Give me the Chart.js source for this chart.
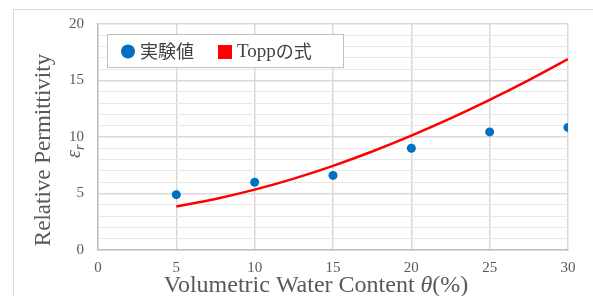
<!DOCTYPE html>
<html><head><meta charset="utf-8">
<script src="https://cdn.jsdelivr.net/npm/chart.js@4"></script>
<style>html,body{margin:0;padding:0;background:#fff}#wrap{width:593px;height:296px;position:relative}</style>
</head><body><div id="wrap"><canvas id="c" width="593" height="296"></canvas></div>
<script>
// Measured data (θ in %, εr)
const measuredTheta = [5, 10, 15, 20, 25, 30];
const measuredEps = [4.9, 6.0, 6.6, 9.0, 10.45, 10.85];
// Topp's equation curve
const toppTheta = [5, 7.5, 10, 12.5, 15, 17.5, 20, 22.5, 25, 27.5, 30];
const toppEps = [3.85, 4.52, 5.34, 6.32, 7.45, 8.72, 10.12, 11.64, 13.28, 15.03, 16.89];
const legendLabels = ['実験値', 'Toppの式'];
const xTitle = 'Volumetric Water Content ';
const yTitle = 'Relative Permittivity';

const gray = '#595959';
const serif = '"Liberation Serif", "Times New Roman", serif';

const decor = {
  id: 'decor',
  beforeDraw(chart) {
    const ctx = chart.ctx;
    ctx.save();
    ctx.strokeStyle = '#d9d9d9';
    ctx.lineWidth = 1;
    ctx.beginPath();
    ctx.moveTo(13.5, 296); ctx.lineTo(13.5, 9.5); ctx.lineTo(593, 9.5);
    ctx.stroke();
    ctx.restore();
  },
  afterDraw(chart) {
    const ctx = chart.ctx;
    ctx.save();
    // legend
    const lx = 107, ly = 34, lw = 236, lh = 33;
    ctx.fillStyle = '#fff';
    ctx.fillRect(lx, ly, lw, lh);
    ctx.strokeStyle = '#bfbfbf';
    ctx.lineWidth = 1;
    ctx.strokeRect(lx + 0.5, ly + 0.5, lw, lh);
    ctx.fillStyle = '#0070C0';
    ctx.beginPath(); ctx.arc(128, 51.5, 7, 0, Math.PI * 2); ctx.fill();
    ctx.fillStyle = '#404040';
    ctx.font = '18px "Noto Sans CJK JP"';
    ctx.textBaseline = 'middle';
    ctx.fillText(legendLabels[0], 140, 51);
    ctx.fillStyle = '#FF0000';
    ctx.fillRect(218, 45, 14, 14);
    ctx.fillStyle = '#404040';
    ctx.font = '19px ' + serif;
    const tw = ctx.measureText('Topp').width;
    ctx.fillText('Topp', 237, 52);
    ctx.font = '18px "Noto Sans CJK JP"';
    ctx.fillText('の式', 237 + tw, 51);

    // x title
    ctx.fillStyle = gray;
    const fs = 24;
    ctx.font = fs + 'px ' + serif;
    const w1 = ctx.measureText(xTitle).width;
    ctx.font = 'italic ' + fs + 'px ' + serif;
    const w2 = ctx.measureText('θ').width;
    ctx.font = fs + 'px ' + serif;
    const w3 = ctx.measureText('(%)').width;
    let x0 = 316 - (w1 + w2 + w3) / 2;
    ctx.textBaseline = 'alphabetic';
    ctx.fillText(xTitle, x0, 292);
    ctx.font = 'italic ' + fs + 'px ' + serif;
    ctx.fillText('θ', x0 + w1, 292);
    ctx.font = fs + 'px ' + serif;
    ctx.fillText('(%)', x0 + w1 + w2, 292);

    // y title
    ctx.translate(50, 150);
    ctx.rotate(-Math.PI / 2);
    ctx.textAlign = 'center';
    ctx.font = '23px ' + serif;
    ctx.fillText(yTitle, 0, 0);
    ctx.restore();

    ctx.save();
    ctx.translate(80, 148);
    ctx.rotate(-Math.PI / 2);
    ctx.fillStyle = gray;
    ctx.font = 'italic 20px ' + serif;
    ctx.textAlign = 'left';
    const ew = ctx.measureText('ε').width;
    ctx.fillText('ε', -10, 0);
    ctx.font = 'italic 14px ' + serif;
    ctx.fillText('r', -10 + ew, 4);
    ctx.restore();
  }
};

new Chart(document.getElementById('c'), {
  type: 'scatter',
  data: {
    datasets: [
      {
        label: legendLabels[1],
        data: toppTheta.map((x, i) => ({x, y: toppEps[i]})),
        showLine: true,
        borderColor: '#FF0000',
        borderWidth: 2.5,
        pointRadius: 0,
        tension: 0.4,
        cubicInterpolationMode: 'monotone',
        order: 2
      },
      {
        label: legendLabels[0],
        data: measuredTheta.map((x, i) => ({x, y: measuredEps[i]})),
        backgroundColor: '#0070C0',
        borderColor: '#0070C0',
        pointRadius: 4.5,
        pointBorderWidth: 0,
        order: 1
      }
    ]
  },
  options: {
    responsive: false,
    animation: false,
    layout: { padding: { left: 0, top: 24, right: 25, bottom: 0 } },
    plugins: { legend: { display: false }, tooltip: { enabled: false } },
    scales: {
      x: {
        type: 'linear', min: 0, max: 30,
        ticks: { stepSize: 5, color: gray, padding: 9, autoSkip: false, font: { family: serif, size: 15 } },
        grid: { color: '#d9d9d9', drawTicks: false, lineWidth: 1.5 },
        border: { color: '#bfbfbf', width: 1.5 },
        afterFit(s) { s.height = 46; }
      },
      y: {
        type: 'linear', min: 0, max: 20,
        ticks: {
          stepSize: 1, color: gray, padding: 14, autoSkip: false, font: { family: serif, size: 15 },
          callback: v => (v % 5 === 0 ? v : '')
        },
        grid: {
          drawTicks: false,
          color: c => (c.tick && c.tick.value % 5 === 0 ? '#d9d9d9' : '#e8e8e8'),
          lineWidth: c => (c.tick && c.tick.value % 5 === 0 ? 1.5 : 1)
        },
        border: { color: '#bfbfbf', width: 1.5 },
        afterFit(s) { s.width = 98; }
      }
    }
  },
  plugins: [decor]
});
</script>
</body></html>
